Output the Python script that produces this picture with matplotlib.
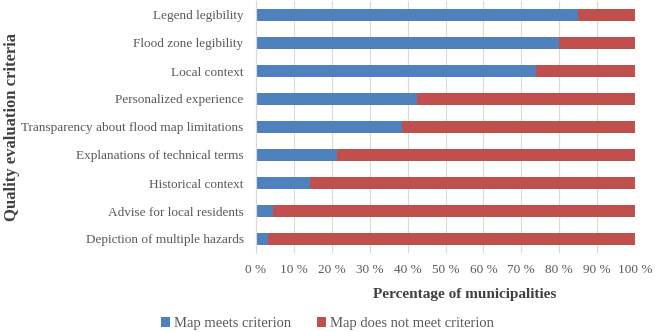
import matplotlib.pyplot as plt
import numpy as np

criteria = ["Legend legibility", "Flood zone legibility", "Local context",
            "Personalized experience", "Transparency about flood map limitations",
            "Explanations of technical terms", "Historical context",
            "Advise for local residents", "Depiction of multiple hazards"]
meets = [85.0, 80.0, 74.0, 42.5, 38.6, 21.4, 14.3, 4.6, 3.2]
not_meets = [100 - m for m in meets]
tick_labels = ["0 %", "10 %", "20 %", "30 %", "40 %", "50 %", "60 %", "70 %", "80 %", "90 %", "100 %"]

plt.rcParams['font.family'] = ['Liberation Serif', 'DejaVu Serif']

fig = plt.figure(figsize=(6.55, 3.32), dpi=100)
ax = fig.add_axes([256 / 655, 1 - 253 / 332, 379 / 655, 252 / 332])

y = np.arange(len(criteria))[::-1]
ax.barh(y, meets, height=0.4, color='#4F81BD', label='Map meets criterion', zorder=2)
ax.barh(y, not_meets, left=meets, height=0.4, color='#C0504D', label='Map does not meet criterion', zorder=2)

ax.set_xlim(0, 100)
ax.set_ylim(-0.5, len(criteria) - 0.5)
ax.set_yticks(y)
ax.set_yticklabels(criteria, fontsize=9.5, color='#595959')
ax.set_xticks(np.arange(0, 101, 10))
ax.set_xticklabels(tick_labels, fontsize=9.5, color='#595959')
ax.tick_params(axis='y', length=0, pad=9)
ax.tick_params(axis='x', length=0, pad=8)
ax.grid(axis='x', color='#D9D9D9', linewidth=0.8, zorder=0)
for s in ['top', 'right', 'bottom']:
    ax.spines[s].set_visible(False)
ax.spines['left'].set_color('#D9D9D9')

ax.set_xlabel('Percentage of municipalities', fontsize=11, fontweight='bold', color='#404040')
ax.xaxis.set_label_coords(0.55, -0.14)
fig.text(12 / 655, 1 - 127 / 332, 'Quality evaluation criteria', rotation=90, fontsize=12,
         fontweight='bold', color='#404040', ha='center', va='center')

fig.legend(loc='center', bbox_to_anchor=(0.5, 0.025), ncol=2, frameon=False, fontsize=10.5,
           handlelength=0.6, handleheight=0.6, columnspacing=1.8, handletextpad=0.25,
           labelcolor='#595959')

fig.savefig('out.png', dpi=100)
